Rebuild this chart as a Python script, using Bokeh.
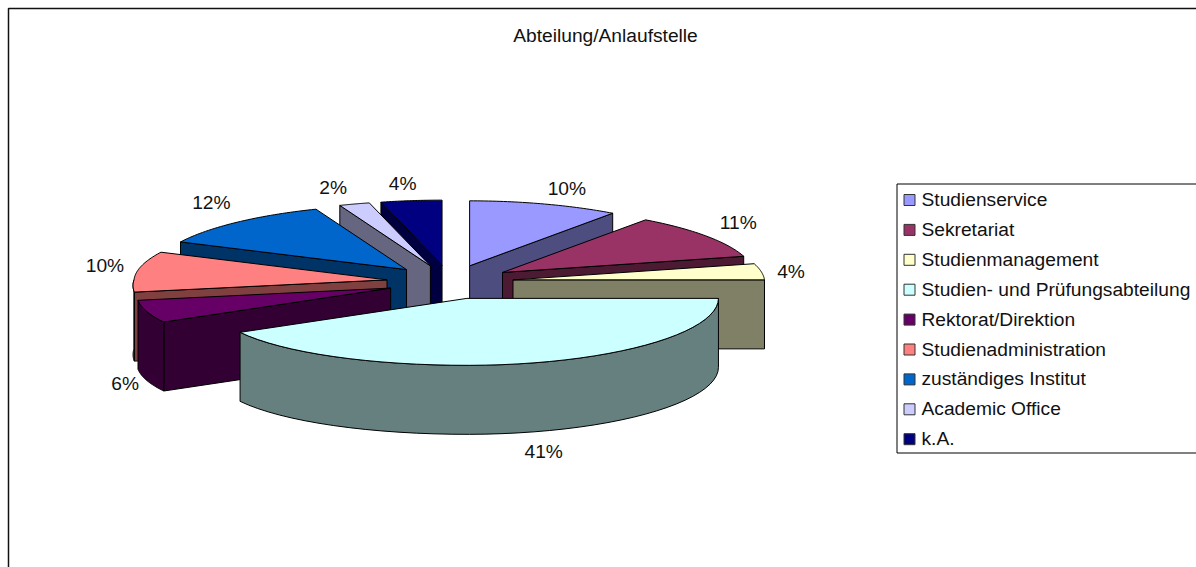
import math
from bokeh.plotting import figure
from bokeh.models import Range1d
from bokeh.core.properties import value
from bokeh.embed import file_html
from bokeh.resources import INLINE

chart_title = "Abteilung/Anlaufstelle"
categories = ["Studienservice", "Sekretariat", "Studienmanagement",
              "Studien- und Prüfungsabteilung", "Rektorat/Direktion",
              "Studienadministration", "zuständiges Institut",
              "Academic Office", "k.A."]
shares = [10, 11, 4, 41.4, 5.6, 10, 12, 2, 4]
top_colors = ["#9999FF", "#993366", "#FFFFCC", "#CCFFFF", "#660066",
              "#FF8080", "#0066CC", "#CCCCFF", "#000080"]
side_colors = ["#4D4D80", "#4D1A33", "#808066", "#668080", "#330033",
               "#804040", "#003366", "#666680", "#000040"]

# Geometry of the tilted pie, in page pixels
CX, CY = 449.5, 281.5
RX, RY = 250.0, 65.0
DEPTH = 69.0
EXPLODE_X, EXPLODE_Y = 63.5, 17.0
# Back-to-front paint order of the slices
PAINT_ORDER = [0, 8, 7, 6, 1, 5, 2, 4, 3]
# Label nudges from each slice's rim point
NUDGE = [(20, -16), (29, -13.5), (30, -0.5), (10, 21), (-32, 3.5),
         (-34, -6.5), (-24, -19.5), (-20, -17), (-8, -17.5)]
FS = "19.2px"

total = sum(shares)
bounds = [0.0]
for s in shares:
    bounds.append(bounds[-1] + s / total * 2 * math.pi)


def rim(ax, ay, t):
    """Rim point, with the small distortions of the tilted view."""
    s, c = math.sin(t), math.cos(t)
    front = max(0.0, -c)
    back = max(0.0, c)
    if s < 0:
        kx = 1.012 + 0.09 * front - 0.03 * back
    else:
        kx = 1.006 - 0.04 * back
    ky = 1 + 0.03 * front
    return ax + RX * kx * s, ay - RY * ky * c


def arc(ax, ay, t0, t1, n=40):
    pts = [rim(ax, ay, t0 + (t1 - t0) * i / n) for i in range(n + 1)]
    return [q[0] for q in pts], [q[1] for q in pts]


def wall(xs, ys):
    return xs + xs[::-1], ys + [y + DEPTH for y in ys[::-1]]


pxs, pys, pcol = [], [], []
lab_x, lab_y, lab_text = [], [], []
EPS = 1e-9
for i in PAINT_ORDER:
    t0, t1 = bounds[i], bounds[i + 1]
    mid = (t0 + t1) / 2
    ax = CX + EXPLODE_X * math.sin(mid)
    ay = CY - EXPLODE_Y * math.cos(mid)
    walls = []
    # radial cut faces turned toward the viewer
    if math.sin(t0) < -EPS:
        q = rim(ax, ay, t0)
        walls.append(wall([ax, q[0]], [ay, q[1]]))
    if math.sin(t1) > EPS:
        q = rim(ax, ay, t1)
        walls.append(wall([ax, q[0]], [ay, q[1]]))
    # outer rim, front half only
    a0, a1 = max(t0, math.pi / 2), min(t1, 3 * math.pi / 2)
    if a1 > a0 + EPS:
        walls.append(wall(*arc(ax, ay, a0, a1)))
    for wx, wy in walls:
        pxs.append(wx); pys.append(wy); pcol.append(side_colors[i])
    rx, ry = arc(ax, ay, t0, t1)
    pxs.append([ax] + rx); pys.append([ay] + ry); pcol.append(top_colors[i])
    # label
    lx = ax + RX * math.sin(mid) + NUDGE[i][0]
    ly = ay - RY * math.cos(mid) + NUDGE[i][1] + (DEPTH if math.cos(mid) < 0 else 0)
    lab_x.append(lx); lab_y.append(ly); lab_text.append(f"{round(shares[i])}%")

p = figure(width=1196, height=567, output_backend="svg", toolbar_location=None,
           x_range=Range1d(0, 1196), y_range=Range1d(567, 0),
           x_axis_type=None, y_axis_type=None, min_border=0)
p.grid.visible = False
p.outline_line_color = None
p.background_fill_color = "white"
p.border_fill_color = "white"

FONT = value("Liberation Sans")
# Chart frame: its right and bottom edges lie outside the page
p.quad(left=[8], right=[1400], top=[8], bottom=[800], fill_color=None,
       line_color="#111111", line_width=1.5)
p.patches(pxs, pys, fill_color=pcol, line_color="black", line_width=1)
p.text(lab_x, lab_y, text=lab_text, text_font=FONT, text_font_size=FS,
       text_color="#111111", text_align="center", text_baseline="middle")
p.text([605], [34.5], text=[chart_title], text_font=FONT, text_font_size=FS,
       text_color="#111111", text_align="center", text_baseline="middle")

# Legend
LEFT, TOP, BOTTOM = 896.5, 183.5, 452.5
p.quad(left=[LEFT], right=[1400], top=[TOP], bottom=[BOTTOM],
       fill_color="white", line_color="black", line_width=1)
rows = [TOP + 16 + 29.9 * k for k in range(len(categories))]
p.quad(left=[903.5] * len(rows), right=[914.5] * len(rows),
       top=[y - 5.5 for y in rows], bottom=[y + 5.5 for y in rows],
       fill_color=top_colors, line_color="#333333", line_width=1)
p.text([921] * len(rows), [y - 0.5 for y in rows], text=categories, text_font=FONT,
       text_font_size=FS, text_color="#111111", text_align="left", text_baseline="middle")

open("out.html", "w").write(file_html(p, INLINE))
